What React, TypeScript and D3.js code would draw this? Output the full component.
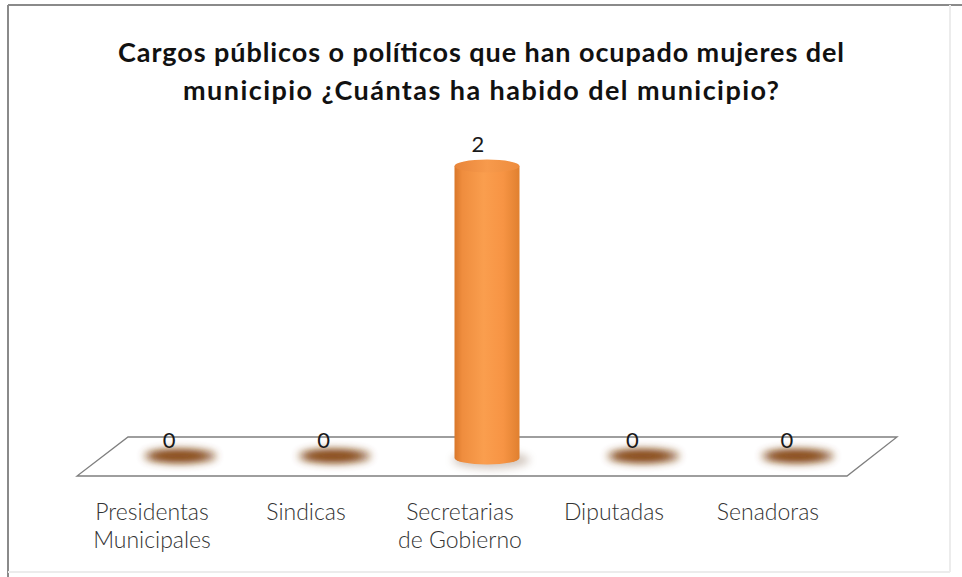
import React from "react";
import * as d3 from "d3";

const categories = ["Presidentas Municipales", "Sindicas", "Secretarias de Gobierno", "Diputadas", "Senadoras"];
const categoryLines = [["Presidentas", "Municipales"], ["Sindicas"], ["Secretarias", "de Gobierno"], ["Diputadas"], ["Senadoras"]];
const values = [0, 0, 2, 0, 0];
const titleLines = ["Cargos públicos o políticos que han ocupado mujeres del", "municipio ¿Cuántas ha habido del municipio?"];
const titleWidths = [726, 596];

const W = 962, H = 577;
const FONT = "Lato, 'Open Sans', sans-serif";

export default function App() {
  // band scales on the middle and front edge of the floor
  const xMid = d3.scaleBand<string>().domain(categories).range([101, 873]);
  const xFront = d3.scaleBand<string>().domain(categories).range([75, 845]);
  const y = d3.scaleLinear().domain([0, 2]).range([458, 166]);

  const floorBackY = 437, floorFrontY = 476;
  const floor = [[128, floorBackY], [897, floorBackY], [847, floorFrontY], [77, floorFrontY]];
  const floorPath = d3.line()(floor as [number, number][]) + "Z";

  const rx = 32.5, ry = 6.5;

  return (
    <svg width={W} height={H} style={{ position: "absolute", left: 0, top: 0, background: "#fff" }}>
      <defs>
        <linearGradient id="cyl" x1="0" x2="1" y1="0" y2="0">
          <stop offset="0" stopColor="#d9772a" />
          <stop offset="0.12" stopColor="#ef8d3e" />
          <stop offset="0.45" stopColor="#fa9e4e" />
          <stop offset="0.75" stopColor="#f79444" />
          <stop offset="1" stopColor="#e0802f" />
        </linearGradient>
        <linearGradient id="cyltop" x1="0" x2="1" y1="0" y2="0">
          <stop offset="0" stopColor="#e8853a" />
          <stop offset="0.5" stopColor="#f79a4c" />
          <stop offset="1" stopColor="#ee8c3d" />
        </linearGradient>
        <filter id="blur" x="-50%" y="-100%" width="200%" height="300%">
          <feGaussianBlur stdDeviation="4" />
        </filter>
        <filter id="blur2" x="-50%" y="-100%" width="200%" height="300%">
          <feGaussianBlur stdDeviation="3" />
        </filter>
      </defs>
      <rect x={0} y={0} width={W} height={H} fill="#fff" />
      {/* frame */}
      <line x1={8} y1={5} x2={962} y2={5} stroke="#8a8a8a" strokeWidth={2} />
      <line x1={8} y1={5} x2={8} y2={577} stroke="#8a8a8a" strokeWidth={2} />
      <line x1={950} y1={5} x2={950} y2={572} stroke="#ececec" strokeWidth={2} />
      <line x1={8} y1={572} x2={950} y2={572} stroke="#ececec" strokeWidth={2} />

      {/* title */}
      {titleLines.map((t, i) => (
        <text key={i} x={481} y={62 + i * 38} textAnchor="middle" fontFamily={FONT} fontWeight="bold" fontSize={27}
          fill="#111" textLength={titleWidths[i]} lengthAdjust="spacing">
          {t}
        </text>
      ))}

      {/* floor */}
      <path d={floorPath} fill="#fff" stroke="#7f7f7f" strokeWidth={1.3} />

      {/* bars */}
      {categories.map((c, i) => {
        const cx = (xMid(c) as number) + xMid.bandwidth() / 2;
        const v = values[i];
        const y0 = y(0), y1 = y(v);
        if (v === 0) {
          return (
            <g key={c}>
              <ellipse cx={cx + 2} cy={y0 - 2} rx={36} ry={7} fill="#7a3e10" opacity={0.85} filter="url(#blur)" />
              <ellipse cx={cx} cy={y0 - 2} rx={26} ry={4} fill="#8a4a18" opacity={0.8} filter="url(#blur2)" />
            </g>
          );
        }
        return (
          <g key={c}>
            <ellipse cx={cx + 4} cy={y0 + 2} rx={rx + 6} ry={ry + 2} fill="#7a5a40" opacity={0.35} filter="url(#blur)" />
            <path
              d={`M${cx - rx},${y1} L${cx - rx},${y0} A${rx},${ry} 0 0 0 ${cx + rx},${y0} L${cx + rx},${y1} Z`}
              fill="url(#cyl)"
            />
            <ellipse cx={cx} cy={y1} rx={rx} ry={ry} fill="url(#cyltop)" />
          </g>
        );
      })}

      {/* value labels */}
      {categories.map((c, i) => {
        const cx = (xMid(c) as number) + xMid.bandwidth() / 2 - 9;
        const v = values[i];
        const ly = v === 0 ? 448 : y(v) - 14;
        return (
          <text key={c} x={cx} y={ly} textAnchor="middle" fontFamily={FONT} fontSize={22} fill="#1a1a1a">
            {v}
          </text>
        );
      })}

      {/* category labels */}
      {categories.map((c, i) => {
        const cx = (xFront(c) as number) + xFront.bandwidth() / 2;
        return (
          <text key={c} textAnchor="middle" fontFamily={FONT} fontWeight={300} fontSize={23} fill="#333">
            {categoryLines[i].map((l, j) => (
              <tspan key={j} x={cx} y={520 + j * 28}>
                {l}
              </tspan>
            ))}
          </text>
        );
      })}
    </svg>
  );
}
